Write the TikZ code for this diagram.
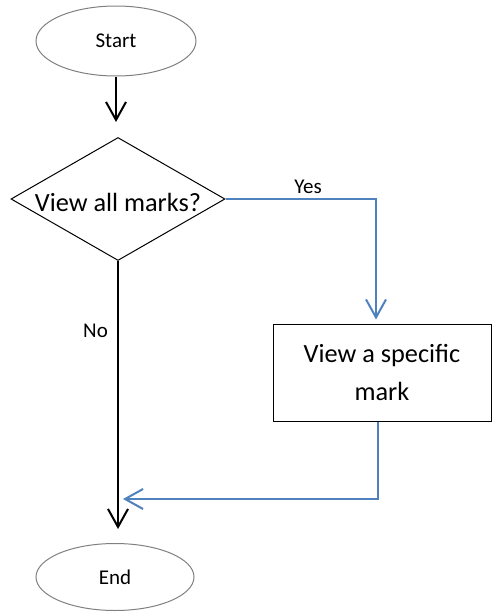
\documentclass[tikz,border=0pt]{standalone}
\usepackage{fontspec}
\setmainfont{Carlito}
\usepackage{tikz}
\usetikzlibrary{shapes.geometric, arrows.meta, calc}
\definecolor{flowblue}{RGB}{79,129,189}
\definecolor{edgegray}{RGB}{128,128,128}

\begin{document}
\begin{tikzpicture}[
    x=1pt, y=-1pt,
    terminal/.style={ellipse, draw=edgegray, line width=1pt, font=\fontsize{21}{25}\selectfont},
    decision/.style={diamond, draw, line width=1pt, inner sep=0pt, aspect=1.74, minimum width=214pt, minimum height=123pt, text height=25pt, text depth=0pt, font=\fontsize{26.3}{32}\selectfont},
    process/.style={rectangle, draw, line width=1pt, minimum width=218pt, minimum height=97pt, align=center, font=\fontsize{26.3}{38}\selectfont},
    flow/.style={line width=2pt, -{Straight Barb[length=18pt,width=20pt]}},
    answer/.style={font=\fontsize{21}{25}\selectfont}
]
\useasboundingbox (0,0) rectangle (492,613);

% Shapes
\node[terminal, minimum width=160pt, minimum height=70pt] (start) at (116,41) {Start};
\node[decision] (view) at (118,199) {View all marks?};
\node[process] (spec) at (382,372.5) {View a specific\\mark};
\node[terminal, minimum width=158pt, minimum height=67pt] (stop) at (115,577) {End};

% Corners of the blue path
\coordinate (yescorner) at (376,199);
\coordinate (backcorner) at (378,499);
\coordinate (backend) at (118,499);

% Connectors
\draw[flow, shorten >=15pt] (start.south) -- (start.south |- view.north);
\draw[flow, flowblue, shorten >=4pt] (view.east) -- (yescorner) -- (yescorner |- spec.north);
\draw[flow, flowblue, shorten >=5pt] (backcorner |- spec.south) -- (backcorner) -- (backend);
\draw[flow, shorten >=14pt] (view.south) -- (view.south |- stop.north);

% Branch labels
\node[answer] (yes) at (308,187) {Yes};
\node[answer] (no) at (95.5,331) {No};
\end{tikzpicture}
\end{document}
